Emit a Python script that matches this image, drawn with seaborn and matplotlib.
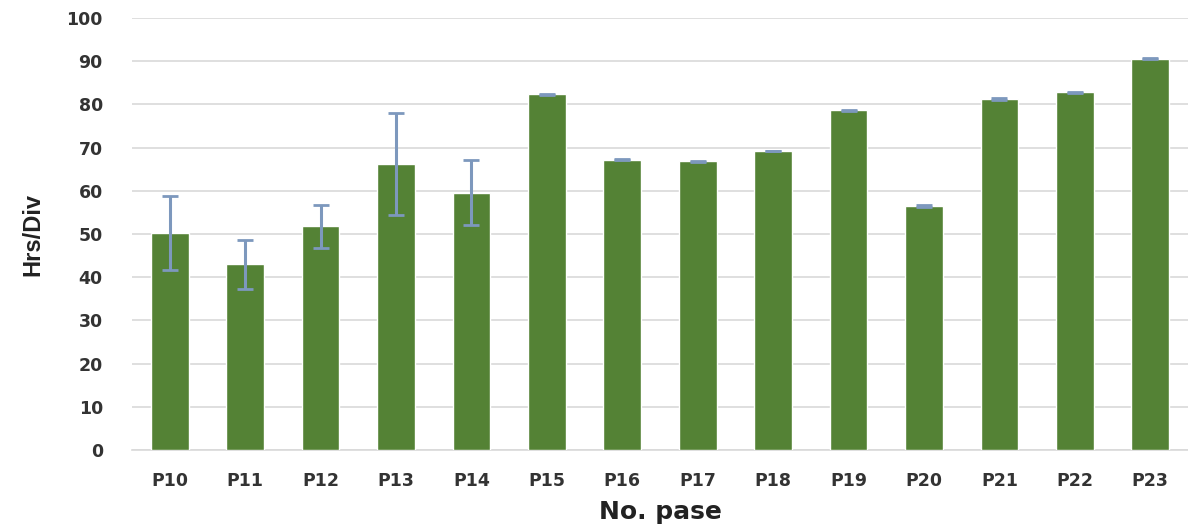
import pandas as pd
import matplotlib
matplotlib.use("Agg")
import matplotlib.pyplot as plt
from matplotlib import font_manager
import seaborn as sns

# values
passages = ["P10", "P11", "P12", "P13", "P14", "P15", "P16",
            "P17", "P18", "P19", "P20", "P21", "P22", "P23"]
hrs_per_div = [50.2, 43.0, 51.8, 66.2, 59.6, 82.3, 67.2,
               66.8, 69.2, 78.6, 56.5, 81.3, 82.8, 90.6]
std_err = [8.5, 5.7, 5.0, 11.7, 7.5, 0.2, 0.1,
           0.2, 0.1, 0.1, 0.2, 0.2, 0.1, 0.2]

BAR_GREEN = "#548235"
ERR_BLUE = "#7d98bd"
GRID_GREY = "#d9d9d9"

df = pd.DataFrame({"passage": passages, "hrs": hrs_per_div, "err": std_err})

sns.set_theme(style="white")
plt.rcParams["font.family"] = ["DejaVu Sans"]

# condensed font for the y label if there is one
installed = {f.name for f in font_manager.fontManager.ttflist}
if "Liberation Sans Narrow" in installed:
    ylab_font, ylab_size = "Liberation Sans Narrow", 20
else:
    ylab_font, ylab_size = "Liberation Sans", 17

fig = plt.figure(figsize=(11.88, 5.31), dpi=100)
ax = fig.add_axes([132 / 1188, 81 / 531, 1 - 132 / 1188, 432 / 531])

sns.barplot(data=df, x="passage", y="hrs", color=BAR_GREEN, width=0.5,
            saturation=1, errorbar=None, ax=ax, zorder=3)
ax.errorbar(range(len(df)), df["hrs"], yerr=df["err"], fmt="none",
            ecolor=ERR_BLUE, elinewidth=2.2, capsize=6, capthick=2, zorder=4)

ax.set_ylim(0, 100)
ax.set_xlim(-0.5, len(df) - 0.5)
ax.set_yticks(range(0, 101, 10))
ax.yaxis.grid(True, color=GRID_GREY, linewidth=1.2, zorder=0)
ax.xaxis.grid(False)
for side in ["top", "right", "left"]:
    ax.spines[side].set_visible(False)
ax.spines["bottom"].set_color(GRID_GREY)
ax.spines["bottom"].set_linewidth(1.2)

ax.tick_params(axis="both", length=0, labelsize=12.5, labelcolor="#333333")
ax.tick_params(axis="y", pad=21)
ax.tick_params(axis="x", pad=16)
for lab in ax.get_xticklabels() + ax.get_yticklabels():
    lab.set_fontweight("bold")

ax.set_xlabel("No. pase", fontsize=18, fontweight="bold", color="#222222", labelpad=7)
ax.set_ylabel("Hrs/Div", fontsize=ylab_size, fontweight="bold", color="#222222",
              family=ylab_font, labelpad=16)

fig.savefig("out.png", dpi=100)
